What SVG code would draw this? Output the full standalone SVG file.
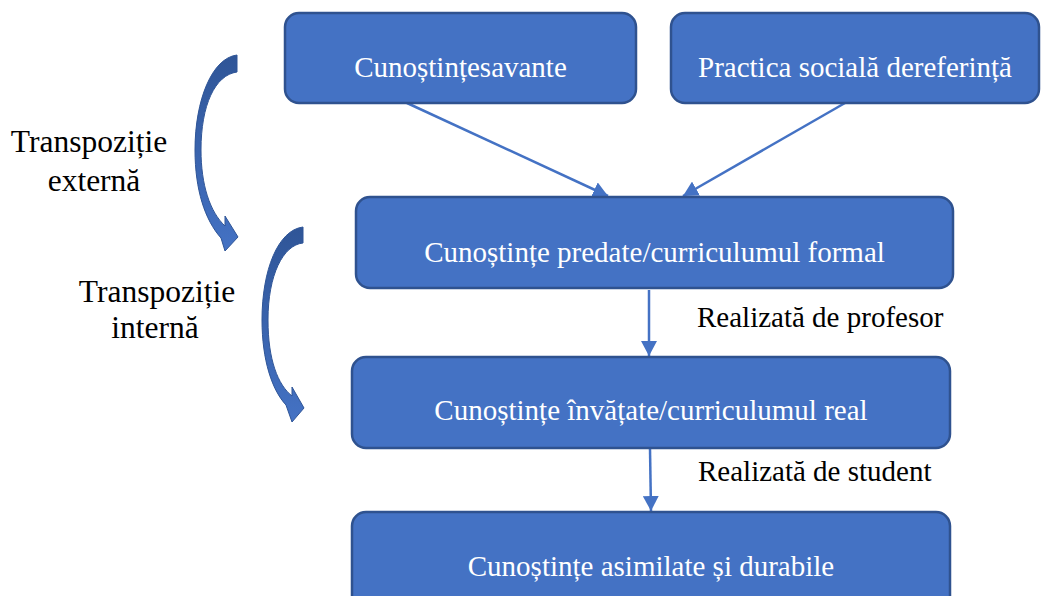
<svg xmlns="http://www.w3.org/2000/svg" width="1041" height="596" viewBox="0 0 1041 596">
  <style>
    .box { fill: #4472C4; stroke: #2F528F; stroke-width: 2.5; }
    .bt { font-family: 'Liberation Serif', 'DejaVu Serif', serif; font-size: 29px; fill: #FFFFFF; text-anchor: middle; }
    .lbl { font-family: 'Liberation Serif', 'DejaVu Serif', serif; font-size: 29px; fill: #000000; }
    .tl { font-family: 'Liberation Serif', 'DejaVu Serif', serif; font-size: 31.5px; fill: #000000; text-anchor: middle; }
    .conn { stroke: #4472C4; stroke-width: 2.5; fill: none; marker-end: url(#ah); }
    .curve { fill: url(#cg); stroke: #2F5597; stroke-width: 1; }
  </style>
  <defs>
    <marker id="ah" markerUnits="userSpaceOnUse" markerWidth="15" markerHeight="16" viewBox="0 0 15 16" refX="15" refY="8" orient="auto">
      <path d="M0,0 L15,8 L0,16 Z" fill="#4472C4"/>
    </marker>
    <linearGradient id="cg" x1="0" y1="0" x2="0" y2="1">
      <stop offset="0" stop-color="#2F5597"/>
      <stop offset="1" stop-color="#4472C4"/>
    </linearGradient>
  </defs>

  <rect width="1041" height="596" fill="#FFFFFF"/>

  <g id="curved-arrows">
    <path class="curve" d="M237,55 C212,58 195,100 195,150 C195,190 205,220 221,238 L225,251 L238,237 L225,216 L225,226 C210,212 201,185 201,150 C201,105 215,75 237,72 Z"/>
    <path class="curve" d="M303,227 C278,230 262,270 262,320 C262,360 272,390 286,405 L292,422 L304,408 L292,387 L292,396 C278,385 268,360 268,320 C268,275 283,245 303,243 Z"/>
  </g>

  <g id="connectors">
    <line class="conn" x1="407" y1="103" x2="608" y2="196"/>
    <line class="conn" x1="845" y1="103" x2="683" y2="196"/>
    <line class="conn" x1="649" y1="290" x2="649" y2="356"/>
    <line class="conn" x1="650" y1="449" x2="651" y2="511"/>
  </g>

  <g id="node-savante">
    <rect class="box" x="285" y="13" width="351" height="90" rx="14"/>
    <text class="bt" x="460.5" y="77" font-family="Liberation Serif">Cunoștințesavante</text>
  </g>
  <g id="node-practica">
    <rect class="box" x="671" y="13" width="368" height="90" rx="14"/>
    <text class="bt" x="855" y="77">Practica socială dereferință</text>
  </g>
  <g id="node-predate">
    <rect class="box" x="356" y="197" width="597" height="91" rx="14"/>
    <text class="bt" x="654.5" y="262">Cunoștințe predate/curriculumul formal</text>
  </g>
  <g id="node-invatate">
    <rect class="box" x="352" y="357" width="598" height="91" rx="14"/>
    <text class="bt" x="651" y="420">Cunoștințe învățate/curriculumul real</text>
  </g>
  <g id="node-asimilate">
    <rect class="box" x="352" y="512" width="598" height="100" rx="14"/>
    <text class="bt" x="651" y="576">Cunoștințe asimilate și durabile</text>
  </g>

  <g id="labels">
    <text class="tl" x="89" y="152">Transpoziție</text>
    <text class="tl" x="94" y="191">externă</text>
    <text class="tl" x="157" y="302">Transpoziție</text>
    <text class="tl" x="155" y="338">internă</text>
    <text class="lbl" x="697" y="327">Realizată de profesor</text>
    <text class="lbl" x="698" y="481">Realizată de student</text>
  </g>
</svg>
